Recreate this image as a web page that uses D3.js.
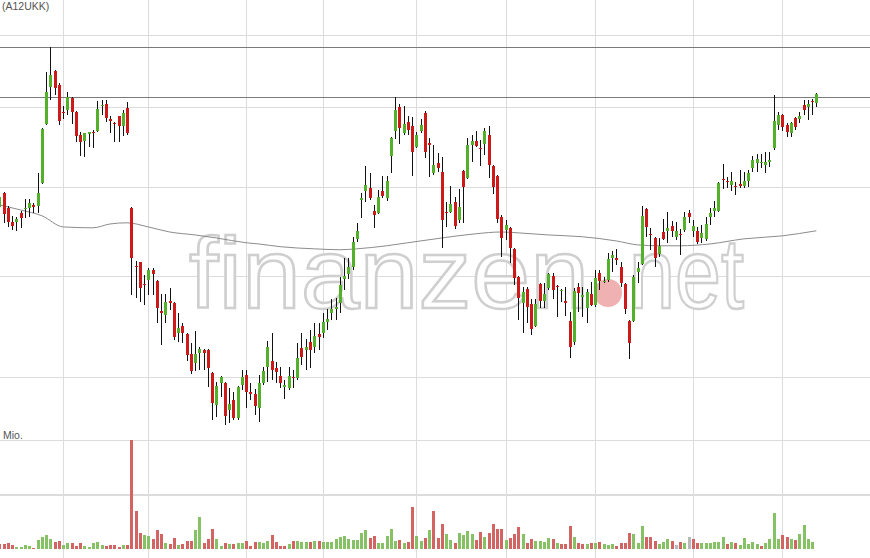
<!DOCTYPE html>
<html><head><meta charset="utf-8">
<script src="https://cdn.jsdelivr.net/npm/d3@7"></script>
<style>html,body{margin:0;padding:0;background:#fff}svg{display:block}</style>
</head><body>
<svg id="chart" width="870" height="558"></svg>
<script>
// ---------- data ----------
const symbolLabel = "(A12UKK)";
const volumeLabel = "Mio.";
const watermarkWords = ["finanzen", "net"];

const openP = [26.29,26.78,26.25,25.77,25.77,26.08,26.22,26.25,26.36,26.32,
27.13,29.33,30.80,31.46,30.88,29.80,29.88,30.36,29.80,28.91,
28.68,28.95,29.03,29.06,30.04,30.12,29.53,29.37,29.65,29.26,
29.96,26.25,24.32,24.45,23.75,23.87,24.19,23.84,22.91,22.79,
23.22,23.16,22.26,22.46,22.23,21.65,21.39,21.68,21.76,21.76,
21.11,20.24,20.83,20.83,20.11,20.37,19.89,20.78,21.06,20.59,
20.53,20.16,20.83,21.28,21.45,21.25,21.03,20.73,20.70,21.00,
20.97,21.82,21.76,21.99,21.85,22.23,22.26,22.58,22.85,22.97,
23.16,23.90,24.06,24.29,25.20,26.53,26.85,26.96,26.15,26.08,
26.85,26.60,28.12,29.06,30.00,28.99,29.41,29.26,28.46,29.06,
29.76,28.61,27.49,27.86,27.53,26.11,26.11,26.46,25.84,27.57,
27.31,28.53,28.68,28.42,28.57,28.91,27.75,27.39,25.94,25.50,
25.57,24.87,23.97,23.16,23.59,23.13,22.46,23.75,23.22,23.62,
24.00,23.68,23.53,23.22,22.61,21.99,23.65,23.34,23.00,23.43,
23.10,24.09,23.82,23.87,24.58,24.58,24.29,23.75,22.61,22.61,
24.12,24.38,26.22,25.37,25.23,24.71,25.43,25.47,25.64,25.27,
25.36,25.50,26.08,25.47,25.47,25.23,25.20,25.94,26.15,26.15,
27.28,27.21,27.06,27.03,27.10,27.03,27.21,27.68,27.86,27.84,
27.79,27.90,28.42,29.29,29.68,29.29,28.99,29.57,29.53,30.08,
30.00,30.22,30.16];

const highP = [26.78,26.80,26.32,25.98,25.94,26.15,26.57,26.57,26.43,27.49,
29.18,31.42,32.47,31.50,30.97,30.04,30.60,30.40,29.84,29.03,
28.99,29.03,29.10,30.24,30.28,30.28,29.65,29.41,29.65,29.88,
30.20,26.29,24.48,24.45,24.03,24.25,24.25,23.87,23.43,23.43,
23.62,23.19,22.85,22.55,22.26,21.96,22.32,21.85,21.79,21.79,
21.14,20.86,21.03,20.86,20.70,20.59,20.75,21.20,21.20,20.83,
20.67,21.06,21.28,22.02,22.26,21.42,21.28,20.92,21.28,21.20,
21.96,22.26,22.08,22.35,22.55,22.55,22.85,22.97,23.28,23.31,
23.97,24.58,24.58,25.27,25.74,26.78,27.75,27.49,26.36,26.88,
27.39,27.39,28.83,30.40,30.12,30.04,29.65,29.61,29.03,29.53,
29.84,28.80,28.53,28.23,28.08,26.46,27.03,26.64,26.92,27.60,
28.80,28.91,29.06,28.72,29.18,29.26,27.79,27.42,26.01,25.84,
25.60,24.90,24.00,23.65,23.65,23.28,23.28,23.78,23.78,24.09,
24.09,23.72,23.59,23.65,22.88,23.62,23.78,23.65,23.59,23.81,
24.19,24.19,23.97,24.74,24.80,24.87,24.45,23.78,22.64,24.03,
24.45,26.32,26.25,25.57,25.27,25.23,25.87,26.11,25.81,25.77,
25.54,26.11,26.18,25.84,25.60,25.67,25.94,26.25,26.50,27.17,
27.82,27.35,27.53,27.17,27.60,27.53,27.60,28.12,28.19,28.19,
28.27,28.27,30.48,29.80,29.72,29.37,29.41,29.61,29.80,30.28,
30.28,30.32,30.56];

const lowP = [26.11,25.74,25.60,25.50,25.47,25.57,25.91,25.94,26.08,26.08,
27.10,29.29,30.28,30.48,29.29,29.53,29.68,29.33,28.64,28.12,
28.08,28.46,28.42,29.03,29.68,29.41,28.99,28.64,28.64,28.87,
28.91,23.40,23.31,23.19,23.10,23.40,23.40,22.55,21.91,22.55,
22.94,22.05,21.99,21.96,21.45,21.08,21.17,21.20,21.20,20.73,
19.84,19.92,20.45,19.71,19.76,19.84,19.84,20.64,20.16,20.37,
19.97,19.79,20.78,20.86,20.92,20.83,20.70,20.40,20.64,20.70,
20.92,21.34,21.20,21.25,21.68,21.76,22.11,22.35,22.64,22.64,
22.85,23.56,23.90,24.19,25.10,25.91,26.46,26.53,25.57,26.05,
26.60,26.50,27.49,28.76,28.57,28.91,28.91,27.39,28.42,28.99,
28.05,27.35,27.42,27.53,24.90,25.60,26.08,25.54,25.74,25.74,
27.28,27.90,28.46,27.75,28.16,27.31,26.74,25.74,24.61,25.17,
24.41,23.72,22.64,22.26,22.55,22.20,22.43,23.00,23.00,23.56,
23.28,22.73,23.19,22.76,21.53,21.91,22.88,22.73,22.55,23.07,
23.04,23.56,23.78,23.81,24.13,24.35,23.65,22.82,21.51,22.58,
23.78,24.35,25.27,24.84,24.29,24.61,25.17,25.07,25.27,25.17,
24.68,25.43,25.74,25.27,25.03,25.07,25.13,25.67,25.94,26.11,
26.92,26.96,26.85,26.71,26.96,26.96,26.99,27.53,27.53,27.68,
27.49,27.71,28.34,29.10,29.06,28.83,28.83,29.10,29.37,29.68,
29.49,29.68,30.00];

const closeP = [26.64,26.05,25.77,25.64,25.87,25.89,26.25,26.43,26.29,26.78,
29.14,30.60,31.29,30.76,29.45,29.76,30.40,29.80,28.87,28.64,
28.99,29.01,29.02,29.92,30.08,29.57,29.45,29.33,29.26,29.76,
28.99,24.58,24.29,23.62,23.72,24.19,24.06,23.00,22.85,23.19,
23.16,22.14,22.40,22.26,21.62,21.17,21.65,21.79,21.68,21.25,
20.29,20.75,21.00,19.95,20.27,19.89,20.73,21.00,20.59,20.53,
20.21,20.83,21.17,21.85,21.20,21.14,20.83,20.78,21.03,20.97,
21.53,21.55,21.85,21.76,22.17,22.14,22.58,22.67,22.97,23.04,
23.72,24.00,24.29,25.10,25.47,26.60,27.06,26.60,26.01,26.64,
26.67,27.21,28.80,29.88,29.18,29.33,29.10,28.27,28.91,29.29,
28.27,28.53,27.79,27.68,25.84,26.08,26.39,25.64,26.29,26.99,
28.53,28.68,28.49,28.38,29.06,27.79,26.99,25.87,25.23,25.67,
24.90,23.93,23.31,23.50,23.04,22.37,23.13,23.22,23.43,24.06,
23.56,23.65,23.56,23.16,21.85,23.53,23.47,23.40,23.50,23.10,
23.93,23.84,23.85,24.54,24.67,24.51,23.78,22.97,21.96,23.97,
24.25,25.98,25.60,25.33,24.58,24.97,25.20,25.57,25.47,25.47,
25.33,25.94,25.94,25.64,25.10,25.40,25.70,26.08,26.25,27.13,
27.24,27.17,27.21,26.99,27.03,27.21,27.49,27.97,27.99,27.88,
27.90,27.97,29.45,29.68,29.22,29.03,29.37,29.22,29.65,29.88,
30.12,30.18,30.52];

// volume in Mio.
const volume = [0.09,0.09,0.11,0.07,0.04,0.04,0.07,0.06,0.02,0.17,
0.22,0.26,0.18,0.13,0.15,0.07,0.11,0.11,0.06,0.11,
0.06,0.04,0.11,0.13,0.07,0.06,0.07,0.07,0.04,0.07,
0.07,2.00,0.70,0.29,0.26,0.24,0.18,0.35,0.28,0.11,
0.09,0.20,0.07,0.09,0.15,0.15,0.35,0.59,0.11,0.18,
0.37,0.18,0.06,0.11,0.09,0.09,0.11,0.11,0.15,0.06,
0.13,0.13,0.11,0.15,0.26,0.13,0.06,0.06,0.09,0.15,
0.15,0.13,0.13,0.13,0.15,0.15,0.13,0.13,0.13,0.18,
0.22,0.24,0.18,0.17,0.17,0.29,0.35,0.20,0.24,0.11,
0.11,0.24,0.37,0.15,0.17,0.11,0.13,0.77,0.24,0.15,
0.20,0.35,0.70,0.20,0.46,0.28,0.17,0.11,0.29,0.26,
0.33,0.28,0.17,0.31,0.22,0.29,0.46,0.37,0.37,0.17,
0.20,0.28,0.40,0.28,0.11,0.18,0.15,0.15,0.13,0.20,
0.18,0.11,0.09,0.09,0.42,0.22,0.11,0.09,0.09,0.11,
0.11,0.13,0.09,0.07,0.09,0.06,0.11,0.11,0.29,0.28,
0.11,0.42,0.22,0.22,0.15,0.09,0.13,0.18,0.15,0.07,
0.13,0.11,0.22,0.18,0.11,0.11,0.11,0.11,0.13,0.13,
0.22,0.09,0.13,0.11,0.07,0.20,0.09,0.13,0.09,0.06,
0.11,0.18,0.66,0.18,0.26,0.22,0.18,0.17,0.28,0.44,
0.18,0.13,0.00];
const priorClose = 26.70;

// moving average, sampled at candle indices
const maIndex = [0,5,10,15,22,26,30,35,40,46,51,58,61,66,74,80,84,91,96,104,112,118,122,129,137,145,150,155,160,167,175,184,192];
const maValue = [26.36,26.18,25.98,25.60,25.57,25.70,25.74,25.60,25.43,25.33,25.23,25.07,25.03,24.94,24.87,24.84,24.87,24.97,25.07,25.23,25.37,25.43,25.40,25.33,25.27,25.13,25.00,24.97,24.97,25.03,25.20,25.30,25.47];

const monthStarts = [15,35,58,76,98,119,140,163,184];
const priceTicks = [18,21,24,27,30,33];
const volumeTicks = [1,2];
const levelLines = [32.47,30.40];

// ---------- drawing ----------
const W = 870, H = 558;
const svg = d3.select("#chart");
const n = closeP.length;
const x = d3.scaleLinear().domain([0, n - 1]).range([-0.6, 816.3]);
const y = d3.scaleLog().domain([16.53, 34.55]).range([H, 0]);
const yv = d3.scaleLinear().domain([0, 2]).range([549, 440]);
const px = v => Math.round(v) + 0.5;

const GREEN = "#52b02a", RED = "#cc1a1a";
const VGREEN = "#86c166", VRED = "#d36464", VGRAY = "#b8b8b8";

svg.append("rect").attr("width", W).attr("height", H).attr("fill", "#fff");

const grid = svg.append("g").attr("stroke", "#dcdcdc").attr("stroke-width", 1).attr("shape-rendering", "crispEdges");
grid.selectAll("line.v").data(monthStarts).join("line")
  .attr("x1", d => px(x(d))).attr("x2", d => px(x(d))).attr("y1", 0).attr("y2", H);
grid.selectAll("line.p").data(priceTicks).join("line")
  .attr("x1", 0).attr("x2", W).attr("y1", d => px(y(d))).attr("y2", d => px(y(d)));
grid.selectAll("line.vt").data(volumeTicks).join("line")
  .attr("x1", 0).attr("x2", W).attr("y1", d => px(yv(d))).attr("y2", d => px(yv(d)));

// watermark
const wm = svg.append("g");
wm.append("text").text(watermarkWords[0])
  .attr("x", 189).attr("y", 308)
  .attr("textLength", 400).attr("lengthAdjust", "spacingAndGlyphs")
  .attr("font-family", "Liberation Sans, Arial, sans-serif").attr("font-size", 100)
  .attr("fill", "#fff").attr("stroke", "#cfcfcf").attr("stroke-width", 2.5);
wm.append("circle").attr("cx", 608).attr("cy", 293).attr("r", 14).attr("fill", "#efb1b1");
wm.append("text").text(watermarkWords[1])
  .attr("x", 629).attr("y", 308)
  .attr("textLength", 115).attr("lengthAdjust", "spacingAndGlyphs")
  .attr("font-family", "Liberation Sans, Arial, sans-serif").attr("font-size", 100)
  .attr("fill", "#fff").attr("stroke", "#cfcfcf").attr("stroke-width", 2.5);

// level lines
svg.append("g").attr("stroke", "#7a7a7a").attr("shape-rendering", "crispEdges")
  .selectAll("line").data(levelLines).join("line")
  .attr("x1", 0).attr("x2", W).attr("y1", d => px(y(d))).attr("y2", d => px(y(d)));

// moving average
const maPts = maIndex.map((i, k) => ({i, v: maValue[k]}));
svg.append("path").datum(maPts)
  .attr("d", d3.line().x(d => x(d.i)).y(d => y(d.v)).curve(d3.curveMonotoneX))
  .attr("fill", "none").attr("stroke", "#8c8c8c").attr("stroke-width", 1);

// volume
const idx = d3.range(n);
const volColor = i => {
  const prev = i === 0 ? priorClose : closeP[i - 1];
  return closeP[i] > prev ? VGREEN : closeP[i] < prev ? VRED : VGRAY;
};
svg.append("g").attr("shape-rendering", "crispEdges")
  .selectAll("rect").data(idx.filter(i => volume[i] > 0)).join("rect")
  .attr("x", i => Math.round(x(i)) - 1).attr("width", 3)
  .attr("y", i => yv(volume[i])).attr("height", i => yv(0) - yv(volume[i]))
  .attr("fill", i => volColor(i));

// candles
const cg = svg.append("g").attr("shape-rendering", "crispEdges");
cg.selectAll("line").data(idx).join("line")
  .attr("x1", i => px(x(i))).attr("x2", i => px(x(i)))
  .attr("y1", i => y(highP[i])).attr("y2", i => y(lowP[i]))
  .attr("stroke", "#111").attr("stroke-width", 1);
cg.selectAll("rect").data(idx).join("rect")
  .attr("x", i => Math.round(x(i)) - 1).attr("width", 3)
  .attr("y", i => y(Math.max(openP[i], closeP[i])))
  .attr("height", i => Math.max(1, Math.abs(y(openP[i]) - y(closeP[i]))))
  .attr("fill", i => closeP[i] >= openP[i] ? GREEN : RED);

// labels
svg.append("text").text(symbolLabel).attr("x", 2).attr("y", 10)
  .attr("font-family", "Liberation Sans, Arial, sans-serif").attr("font-size", 10.5).attr("fill", "#555");
svg.append("text").text(volumeLabel).attr("x", 3).attr("y", 439)
  .attr("font-family", "Liberation Sans, Arial, sans-serif").attr("font-size", 10.5).attr("fill", "#555");
</script>
</body></html>
